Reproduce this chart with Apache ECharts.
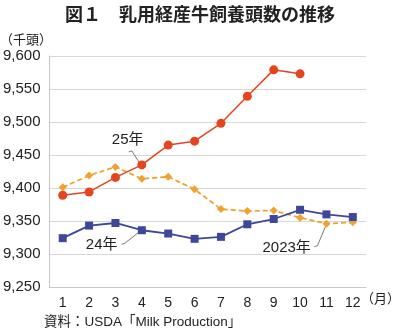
<!DOCTYPE html>
<html><head><meta charset="utf-8">
<script src="https://cdn.jsdelivr.net/npm/echarts@6/dist/echarts.min.js"></script>
<style>html,body{margin:0;padding:0;background:#fff}#c{width:400px;height:335px}</style>
</head><body><div id="c"></div>
<script>
const categories = ['1','2','3','4','5','6','7','8','9','10','11','12'];
const y2025 = [9389, 9394, 9416, 9435, 9465, 9471, 9498, 9539, 9579, 9573];
const y2024 = [9324, 9343, 9347, 9336, 9331, 9323, 9326, 9345, 9353, 9367, 9360, 9356];
const y2023 = [9401, 9419, 9432, 9414, 9417, 9398, 9368, 9365, 9366, 9355, 9346, 9348];
const yTicks = [9250, 9600, 50];

const FONT = '"Liberation Sans", "Noto Sans CJK JP", sans-serif';
const chart = echarts.init(document.getElementById('c'), null, {renderer:'canvas'});
const fmt = v => v.toLocaleString('en-US');
chart.setOption({
  animation: false,
  textStyle: {fontFamily: FONT},
  title: {text: '図１　乳用経産牛飼養頭数の推移', left: 'center', top: 2,
    textStyle: {fontSize: 18, fontWeight: 'bold', color: '#222', fontFamily: FONT}},
  grid: {left: 48, right: 34, top: 56, bottom: 48},
  xAxis: {type: 'category', data: categories, boundaryGap: true,
    axisLine: {lineStyle: {color: '#c8c8c8'}}, axisTick: {show: false},
    axisLabel: {color: '#222', fontSize: 14, margin: 9, fontFamily: FONT}},
  yAxis: {type: 'value', min: yTicks[0], max: yTicks[1], interval: yTicks[2],
    axisLine: {show: true, lineStyle: {color: '#c8c8c8'}}, axisTick: {show: false},
    splitLine: {lineStyle: {color: '#d8d8d8'}},
    axisLabel: {color: '#222', fontSize: 15, margin: 9, formatter: fmt, fontFamily: FONT}},
  series: [
    {name: '2023年', type: 'line', data: y2023, symbol: 'diamond', symbolSize: 8,
      itemStyle: {color: '#f0a22e'}, lineStyle: {color: '#f0a22e', width: 1.8, type: [5, 3]}, z: 2},
    {name: '24年', type: 'line', data: y2024, symbol: 'rect', symbolSize: 8,
      itemStyle: {color: '#3e4798'}, lineStyle: {color: '#3e4798', width: 1.8}, z: 3},
    {name: '25年', type: 'line', data: y2025, symbol: 'circle', symbolSize: 9,
      itemStyle: {color: '#e6441f'}, lineStyle: {color: '#e6441f', width: 1.5}, z: 4}
  ]
});

// annotations anchored to data points
const ann = [
  {text: '25年', idx: 3, val: y2025[3], dx1: -13, dy1: -13, dx2: -3, dy2: -3, tx: -30, ty: -25},
  {text: '24年', idx: 3, val: y2024[3], dx1: -20, dy1: 14, dx2: -3, dy2: 2, tx: -56, ty: 15},
  {text: '2023年', idx: 10, val: y2023[10], dx1: -12, dy1: 23, dx2: -1, dy2: 3, tx: -64, ty: 24}
];
const g = [];
ann.forEach(a => {
  const p = chart.convertToPixel({gridIndex: 0}, [a.idx, a.val]);
  g.push({type: 'polyline', shape: {points: [[p[0]+a.dx1, p[1]+a.dy1], [p[0]+a.dx1+3, p[1]+a.dy1-1], [p[0]+a.dx2, p[1]+a.dy2]]},
    style: {stroke: '#555', lineWidth: 0.8, fill: null}, z: 10});
  g.push({type: 'text', x: p[0]+a.tx, y: p[1]+a.ty, style: {text: a.text, fill: '#222', font: '15px ' + FONT, textVerticalAlign: 'middle'}, z: 10});
});
g.push({type: 'text', left: 0, top: 34, style: {text: '（千頭）', fill: '#222', font: '13px ' + FONT}});
g.push({type: 'text', right: 0, top: 293, style: {text: '（月）', fill: '#222', font: '13px ' + FONT}});
g.push({type: 'text', left: 44, top: 316, style: {text: '資料：USDA「Milk Production」', fill: '#222', font: '13.5px ' + FONT}});
chart.setOption({graphic: g});
</script></body></html>
